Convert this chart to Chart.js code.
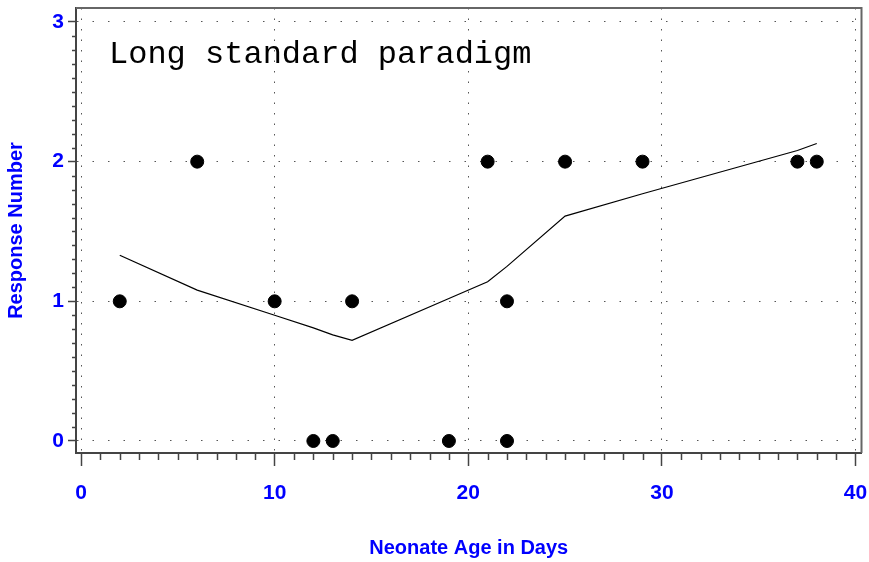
<!DOCTYPE html>
<html>
<head>
<meta charset="utf-8">
<script src="https://cdn.jsdelivr.net/npm/chart.js@4.4.0/dist/chart.umd.min.js"></script>
<style>
  html, body { margin: 0; padding: 0; background: #fff; }
</style>
</head>
<body>
<canvas id="chart" width="869" height="562"></canvas>
<script>
// Observed responses
const ageDays = [2, 6, 10, 12, 13, 14, 19, 21, 22, 22, 25, 29, 37, 38];
const responses = [1, 2, 1, 0, 0, 1, 0, 2, 1, 0, 2, 2, 2, 2];

// Smoothed fit curve
const fitAges = [2, 6, 10, 12, 13, 14, 19, 21, 22, 25, 29, 37, 38];
const fitValues = [1.33, 1.08, 0.90, 0.81, 0.76, 0.72, 1.02, 1.14, 1.25, 1.61, 1.77, 2.08, 2.13];

// Axis ticks
const xTicks = [0, 10, 20, 30, 40];
const yTicks = [0, 1, 2, 3];

const tickFont = { family: 'Liberation Sans', size: 21, weight: 'bold' };
const titleFont = { family: 'Liberation Sans', size: 20, weight: 'bold' };

// Frame on top/right, minor ticks and the panel label
const framePlugin = {
    id: 'frame',
    afterDraw(chart) {
        const ctx = chart.ctx;
        const area = chart.chartArea;
        const x = chart.scales.x;
        const y = chart.scales.y;
        ctx.save();
        ctx.strokeStyle = '#666';
        ctx.lineWidth = 2;
        ctx.beginPath();
        ctx.moveTo(area.left, area.top);
        ctx.lineTo(area.right, area.top);
        ctx.lineTo(area.right, area.bottom);
        ctx.stroke();

        ctx.strokeStyle = '#444';
        ctx.lineWidth = 1.5;
        ctx.beginPath();
        for (let v = 0; v <= 40; v++) {
            if (v % 10 === 0) continue;
            const px = Math.round(x.getPixelForValue(v)) + 0.5;
            ctx.moveTo(px, area.bottom);
            ctx.lineTo(px, area.bottom + 7);
        }
        for (let i = 0; i <= 30; i++) {
            if (i % 10 === 0) continue;
            const py = Math.round(y.getPixelForValue(i / 10)) + 0.5;
            ctx.moveTo(area.left - 4, py);
            ctx.lineTo(area.left, py);
        }
        ctx.stroke();

        ctx.fillStyle = '#000';
        ctx.font = '32px "Liberation Mono"';
        ctx.textBaseline = 'alphabetic';
        ctx.fillText('Long standard paradigm', 109, 63);
        ctx.restore();
    }
};

new Chart(document.getElementById('chart').getContext('2d'), {
    type: 'scatter',
    data: {
        datasets: [{
            label: 'Responses',
            data: ageDays.map((a, i) => ({ x: a, y: responses[i] })),
            backgroundColor: '#000',
            borderColor: '#000',
            pointRadius: 6.5,
            pointHoverRadius: 6.5
        }, {
            type: 'line',
            label: 'Fit',
            data: fitAges.map((a, i) => ({ x: a, y: fitValues[i] })),
            borderColor: '#000',
            borderWidth: 1.2,
            pointRadius: 0,
            fill: false,
            tension: 0
        }]
    },
    options: {
        responsive: false,
        animation: false,
        devicePixelRatio: 1,
        layout: { padding: { top: 8, right: 6, left: 0, bottom: 0 } },
        plugins: {
            legend: { display: false },
            tooltip: { enabled: false }
        },
        scales: {
            x: {
                type: 'linear',
                min: -0.26,
                max: 40.31,
                afterBuildTicks: scale => { scale.ticks = xTicks.map(v => ({ value: v })); },
                afterFit: scale => {
                    scale.height = 109;
                    scale.paddingLeft = 0;
                    scale.paddingRight = 0;
                },
                ticks: { color: '#0000ff', font: tickFont, padding: 15, maxRotation: 0 },
                grid: { color: '#555', lineWidth: 1, tickLength: 13, tickColor: '#444', tickWidth: 1.5 },
                border: { color: '#444', width: 2, dash: [1.5, 9] },
                title: { display: true, text: 'Neonate Age in Days', color: '#0000ff', font: titleFont, padding: { bottom: 2 } }
            },
            y: {
                type: 'linear',
                min: -0.086,
                max: 3.1,
                afterBuildTicks: scale => { scale.ticks = yTicks.map(v => ({ value: v })); },
                afterFit: scale => {
                    scale.width = 76;
                    scale.paddingTop = 0;
                    scale.paddingBottom = 0;
                },
                ticks: { color: '#0000ff', font: tickFont, padding: 4 },
                grid: { color: '#555', lineWidth: 1, tickLength: 8, tickColor: '#444', tickWidth: 1.5 },
                border: { color: '#444', width: 2, dash: [1.5, 14] },
                title: { display: true, text: 'Response Number', color: '#0000ff', font: titleFont, padding: { top: 4 } }
            }
        }
    },
    plugins: [framePlugin]
});
</script>
</body>
</html>
